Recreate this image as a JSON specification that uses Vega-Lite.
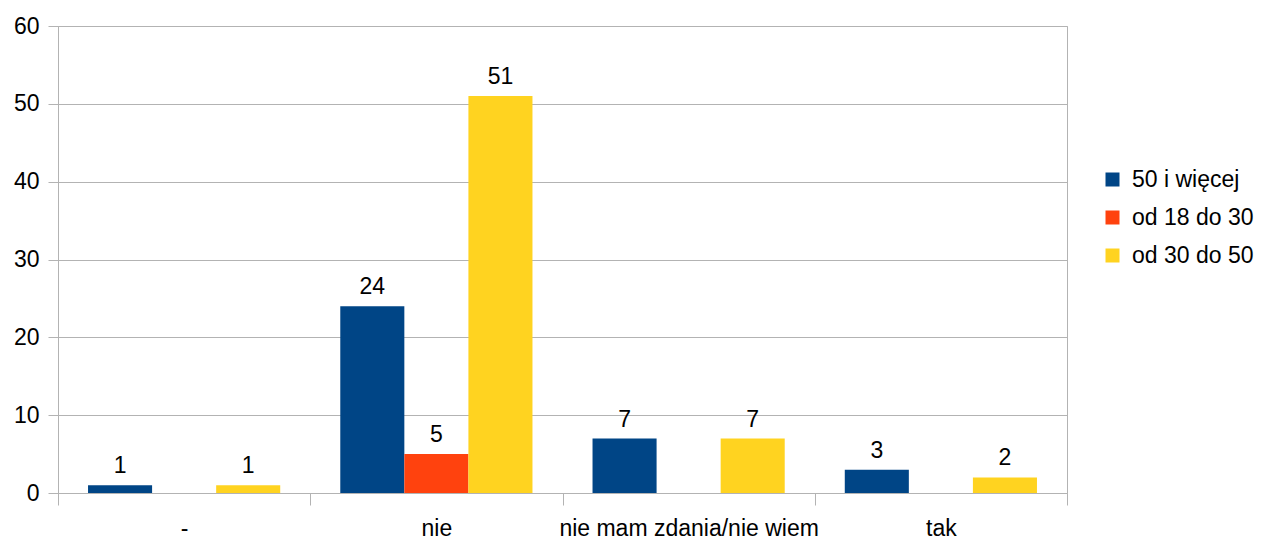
{
  "$schema": "https://vega.github.io/schema/vega-lite/v6.json",
  "width": 1009,
  "height": 467,
  "autosize": "none",
  "padding": {"left": 58, "top": 26, "right": 199, "bottom": 46},
  "background": "white",
  "config": {
    "font": "Liberation Sans",
    "view": {"stroke": "#b3b3b3", "strokeWidth": 1}
  },
  "data": {
    "values": [
      {"odp": "-", "wiek": "50 i więcej", "n": 1},
      {"odp": "-", "wiek": "od 30 do 50", "n": 1},
      {"odp": "nie", "wiek": "50 i więcej", "n": 24},
      {"odp": "nie", "wiek": "od 18 do 30", "n": 5},
      {"odp": "nie", "wiek": "od 30 do 50", "n": 51},
      {"odp": "nie mam zdania/nie wiem", "wiek": "50 i więcej", "n": 7},
      {"odp": "nie mam zdania/nie wiem", "wiek": "od 30 do 50", "n": 7},
      {"odp": "tak", "wiek": "50 i więcej", "n": 3},
      {"odp": "tak", "wiek": "od 30 do 50", "n": 2}
    ]
  },
  "encoding": {
    "x": {
      "field": "odp",
      "type": "nominal",
      "sort": ["-", "nie", "nie mam zdania/nie wiem", "tak"],
      "scale": {"paddingInner": 0, "paddingOuter": 0},
      "axis": {
        "title": null,
        "labelAngle": 0,
        "labelFontSize": 23,
        "labelLimit": 0,
        "labelColor": "#000000",
        "labelPadding": 12,
        "tickBand": "extent",
        "tickSize": 12,
        "tickColor": "#b3b3b3",
        "domainColor": "#b3b3b3",
        "grid": false
      }
    },
    "xOffset": {
      "field": "wiek",
      "type": "nominal",
      "scale": {"domain": ["50 i więcej", "od 18 do 30", "od 30 do 50"], "paddingInner": 0, "paddingOuter": 0.46875}
    },
    "y": {
      "field": "n",
      "type": "quantitative",
      "scale": {"domain": [0, 60]},
      "axis": {
        "title": null,
        "values": [0, 10, 20, 30, 40, 50, 60],
        "labelFontSize": 23,
        "labelColor": "#000000",
        "labelPadding": 9,
        "tickSize": 10,
        "tickColor": "#b3b3b3",
        "domainColor": "#b3b3b3",
        "gridColor": "#b3b3b3"
      }
    }
  },
  "layer": [
    {
      "mark": {"type": "bar"},
      "encoding": {
        "color": {
          "field": "wiek",
          "type": "nominal",
          "scale": {"domain": ["50 i więcej", "od 18 do 30", "od 30 do 50"], "range": ["#004586", "#ff420e", "#ffd320"]},
          "legend": {
            "title": null,
            "orient": "none",
            "legendX": 1043,
            "legendY": 142,
            "symbolType": "square",
            "symbolSize": 196,
            "symbolStrokeWidth": 0,
            "labelFontSize": 23,
            "labelColor": "#000000",
            "rowPadding": 14,
            "labelOffset": 8
          }
        }
      }
    },
    {
      "mark": {"type": "text", "fontSize": 23, "baseline": "alphabetic", "dy": -12, "color": "#000000"},
      "encoding": {"text": {"field": "n", "type": "quantitative"}}
    }
  ]
}
